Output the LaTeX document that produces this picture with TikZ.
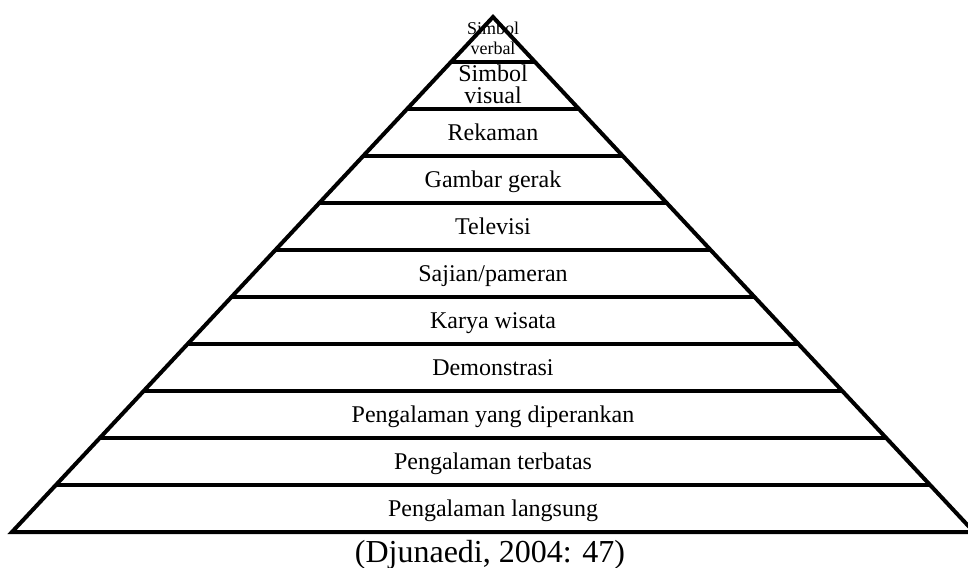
\documentclass[tikz,border=0pt]{standalone}
\usepackage{fontspec}
\setmainfont{Liberation Serif}
\usetikzlibrary{calc}
\tikzset{
  tier/.style={anchor=base, font=\fontsize{24}{22}\selectfont, inner sep=0pt},
  edge line/.style={line width=4pt, line join=miter},
}
\begin{document}
\begin{tikzpicture}[x=1pt,y=-1pt]
  \useasboundingbox (0,0) rectangle (968,567);
  \path
  (493,17) coordinate (A)
  (12,532) coordinate (BL)
  (974,532) coordinate (BR);
  \draw[edge line] (BL) -- (A) -- (BR) -- cycle;
  % dividing lines between the tiers
  \foreach \k in {1,...,10}
    \draw[edge line] ($(A)!{(47*\k-2)/515}!(BL)$) -- ($(A)!{(47*\k-2)/515}!(BR)$);
  \node[tier, font=\fontsize{18}{20}\selectfont, align=center] (tier1) at (493,55) {Simbol\\verbal};
  \node[tier, align=center] (tier2) at (493,104) {Simbol\\visual};
  \foreach \txt [count=\i from 3] in {Rekaman, Gambar gerak, Televisi, Sajian/pameran, Karya wisata, Demonstrasi, Pengalaman yang diperankan, Pengalaman terbatas, Pengalaman langsung}
    \node[tier] (tier\i) at (493,{15+47*(\i-0.5)+7.5}) {\txt};
  \node[anchor=base, font=\fontsize{32}{36}\selectfont, inner sep=0pt] (src) at (490,562) {(Djunaedi, 2004: 47)};
\end{tikzpicture}
\end{document}
